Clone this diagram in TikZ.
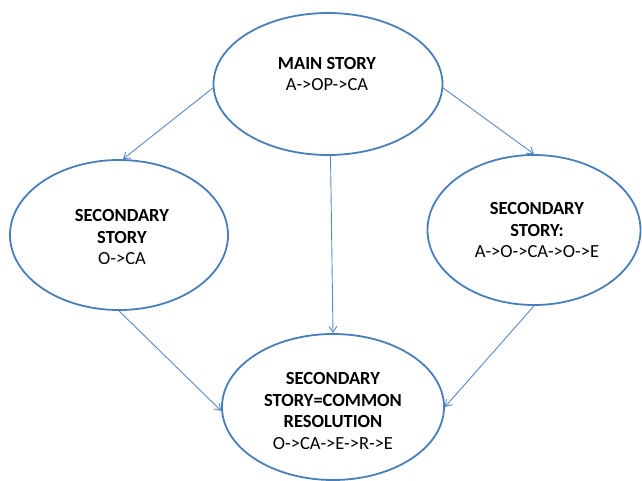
\documentclass[tikz,border=0pt]{standalone}
\usepackage{fontspec}
\setmainfont{Carlito}
\usetikzlibrary{shapes.geometric,arrows.meta}
\definecolor{ellc}{HTML}{4A7EBB}
\definecolor{arrc}{HTML}{5A8AC6}
\tikzset{
  storyell/.style={ellipse, draw=ellc, line width=1.8pt, inner sep=0pt},
  storytxt/.style={align=center, font=\fontsize{18.5}{21.5}\selectfont, text=black},
  arr/.style={draw=arrc, line width=0.9pt, -{Straight Barb[length=6pt,width=8pt]}}
}
\begin{document}
\begin{tikzpicture}[x=1pt,y=-1pt]
\useasboundingbox (0,0) rectangle (642,480);
\node[storyell, minimum width=229pt, minimum height=142pt] (main) at (328,84) {};
\node[storyell, minimum width=218pt, minimum height=150pt] (left) at (119,235) {};
\node[storyell, minimum width=213pt, minimum height=150pt] (right) at (534,230) {};
\node[storyell, minimum width=222pt, minimum height=146pt] (bottom) at (333,407) {};
\node[storytxt] (tmain) at (327,74) {\textbf{MAIN STORY}\\A->OP->CA};
\node[storytxt] (tleft) at (122,237) {\textbf{SECONDARY}\\\textbf{STORY}\\O->CA};
\node[storytxt] (tright) at (537,230) {\textbf{SECONDARY}\\\textbf{STORY:}\\A->O->CA->O->E};
\node[storytxt] (tbottom) at (333,411) {\textbf{SECONDARY}\\\textbf{STORY=COMMON}\\\textbf{RESOLUTION}\\O->CA->E->R->E};
\draw[arr] (main.182) -- (left.87);
\draw[arr] (main.-2) -- (right.90);
\draw[arr] (main.-88) -- (bottom.north);
\draw[arr] (left.-90) -- (bottom.182);
\draw[arr] (right.-90) -- (bottom.0);
\end{tikzpicture}
\end{document}
